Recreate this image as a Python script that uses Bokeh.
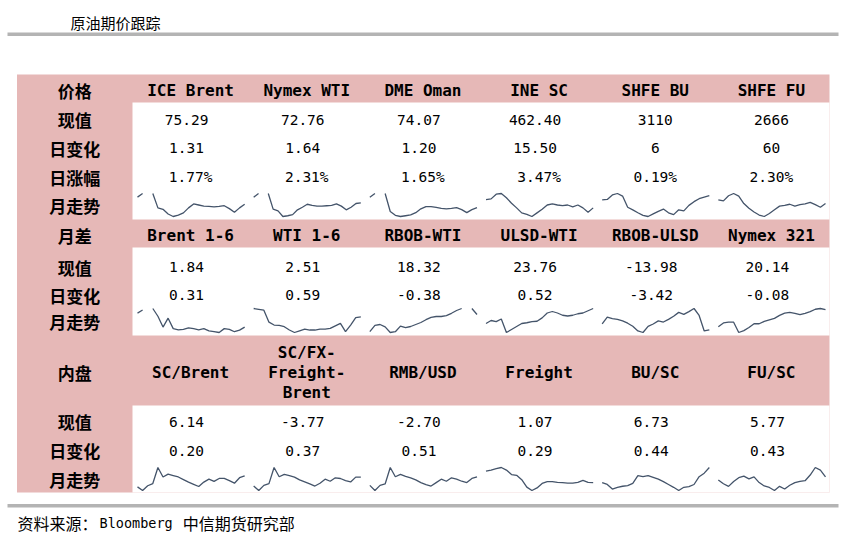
from bokeh.plotting import figure
from bokeh.models import Range1d
from bokeh.core.properties import value
from bokeh.embed import file_html
from bokeh.resources import INLINE
import numpy as np

# ---------------- data ----------------
TITLE = "原油期价跟踪"
SOURCE_PARTS = ["资料来源：", "Bloomberg", "中信期货研究部"]

sec1_group = "价格"
sec1_cols = ["ICE Brent", "Nymex WTI", "DME Oman", "INE SC", "SHFE BU", "SHFE FU"]
sec1_labels = ["现值", "日变化", "日涨幅", "月走势"]
sec1_now = ["75.29", "72.76", "74.07", "462.40", "3110", "2666"]
sec1_chg = ["1.31", "1.64", "1.20", "15.50", "6", "60"]
sec1_pct = ["1.77%", "2.31%", "1.65%", "3.47%", "0.19%", "2.30%"]

sec2_group = "月差"
sec2_cols = ["Brent 1-6", "WTI 1-6", "RBOB-WTI", "ULSD-WTI", "RBOB-ULSD", "Nymex 321"]
sec2_labels = ["现值", "日变化", "月走势"]
sec2_now = ["1.84", "2.51", "18.32", "23.76", "-13.98", "20.14"]
sec2_chg = ["0.31", "0.59", "-0.38", "0.52", "-3.42", "-0.08"]

sec3_group = "内盘"
sec3_cols = ["SC/Brent", "SC/FX-\nFreight-\nBrent", "RMB/USD", "Freight", "BU/SC", "FU/SC"]
sec3_labels = ["现值", "日变化", "月走势"]
sec3_now = ["6.14", "-3.77", "-2.70", "1.07", "6.73", "5.77"]
sec3_chg = ["0.20", "0.37", "0.51", "0.29", "0.44", "0.43"]

# monthly trend (relative levels read from the sparklines, None = missing day)
spark_ice_brent = [57, 67, None, 67, 27, 23, 10, 3, 7, 13, 27, 38, 35, 32, 31, 30, 31, 33, 25, 15, 27, 37]
spark_nymex_wti = [57, 67, None, 67, 25, 20, 5, 7, 10, 23, 30, 38, 35, 33, 33, 34, 35, 39, 33, 23, 30, 40, 42]
spark_dme_oman = [57, 67, None, 67, 20, 10, 7, 9, 11, 17, 27, 33, 33, 31, 28, 27, 28, 30, 25, 17, 25, 30]
spark_ine_sc = [50, 52, 65, 67, 55, 40, 27, 13, 9, 3, 13, 23, 35, 38, 35, 33, 35, 30, 35, 27, 15, 27]
spark_shfe_bu = [50, 51, 63, 67, 60, 30, 23, 15, 8, 5, 12, 19, 25, 15, 10, 23, 20, 35, 45, 53, 57, 61]
spark_shfe_fu = [50, 47, 61, 67, 60, 40, 27, 17, 9, 5, 13, 23, 33, 35, 38, 33, 37, 39, 43, 37, 30, 40]

spark_brent_16 = [58, 66, None, 70, 50, 22, 45, 18, 15, 16, 20, 18, 15, 18, 12, 10, 8, 18, 16, 10, 14, 22]
spark_wti_16 = [68, 66, 64, 35, 28, 27, 24, 16, 10, 14, 18, 16, 16, 18, 18, 20, 26, 32, 12, 28, 46, 48]
spark_rbob_wti = [12, 28, 30, 24, 10, 12, 26, 22, 25, 30, 35, 42, 48, 50, 50, 52, 58, 65, 70, None, 70, 55]
spark_ulsd_wti = [30, 38, 35, 42, 6, 14, 22, 30, 32, 35, 36, 45, 58, 62, 58, 52, 50, 52, 56, 58, 64, 70]
spark_rbob_ulsd = [30, 48, 44, 42, 38, 32, 24, 12, 8, 24, 30, 38, 35, 42, 50, 60, 55, 62, 70, 52, 12, 15]
spark_nymex_321 = [20, 30, 32, 32, 5, 10, 18, 28, 28, 34, 38, 42, 50, 56, 58, 55, 52, 55, 60, 66, 68, 65]

spark_sc_brent = [15, 5, 18, 24, 68, 42, 50, 46, 42, 35, 28, 22, 16, 28, 36, 30, 38, 38, 32, 25, 40, 45]
spark_sc_fx = [18, 5, 20, 25, 72, 45, 52, 48, 44, 36, 30, 24, 18, 26, 38, 32, 42, 40, 34, 30, 44, 44]
spark_rmb_usd = [20, 5, 20, 24, 72, 45, 52, 46, 42, 36, 28, 22, 18, 28, 38, 32, 42, 38, 32, 28, 40, 45]
spark_freight = [55, 58, 62, 65, 58, 46, 44, 32, 12, 3, 10, 22, 27, 27, 25, 24, 23, 23, 25, 30, 25, 24]
spark_bu_sc = [25, 20, 7, 12, 15, 17, 23, 45, 42, 45, 40, 35, 28, 20, 12, 3, 12, 14, 20, 42, 52, 68]
spark_fu_sc = [32, 22, 15, 28, 38, 42, 35, 40, 25, 16, 12, 4, 15, 8, 18, 25, 28, 30, 45, 65, 58, 40]

sec1_sparks = [spark_ice_brent, spark_nymex_wti, spark_dme_oman, spark_ine_sc, spark_shfe_bu, spark_shfe_fu]
sec2_sparks = [spark_brent_16, spark_wti_16, spark_rbob_wti, spark_ulsd_wti, spark_rbob_ulsd, spark_nymex_321]
sec3_sparks = [spark_sc_brent, spark_sc_fx, spark_rmb_usd, spark_freight, spark_bu_sc, spark_fu_sc]

# ---------------- style / layout ----------------
PINK = "#e6b8b7"
GREY = "#b4b4b4"
LINE = "#44546a"
CJK = "Noto Sans CJK SC"
MONO = "DejaVu Sans Mono"

W, H = 840, 540
TABLE_L, LABEL_R, TABLE_R = 16.5, 132.0, 829.0
COL_W = (TABLE_R - LABEL_R) / 6.0

layouts = [
    dict(head=(74, 102), head_y=89.5, body=(102, 219), row_y=[119.0, 147.5, 176.5], spark=(193, 216)),
    dict(head=(219, 247), head_y=234.5, body=(247, 335), row_y=[266.5, 294.5], spark=(308, 332)),
    dict(head=(335, 405), head_y=372.0, body=(405, 492), row_y=[421.0, 450.0], spark=(467, 490)),
]
sections = [
    (sec1_group, sec1_cols, sec1_labels, [sec1_now, sec1_chg, sec1_pct], sec1_sparks),
    (sec2_group, sec2_cols, sec2_labels, [sec2_now, sec2_chg], sec2_sparks),
    (sec3_group, sec3_cols, sec3_labels, [sec3_now, sec3_chg], sec3_sparks),
]

p = figure(width=W, height=H, x_range=Range1d(0, W), y_range=Range1d(H, 0),
           toolbar_location=None, output_backend="svg", min_border=0,
           x_axis_type=None, y_axis_type=None, outline_line_color=None,
           background_fill_color="white", border_fill_color="white")
p.grid.visible = False

# title and rules
p.text(x=[70], y=[21.5], text=[TITLE], text_font=value(CJK), text_font_size=value("15px"),
       text_font_style="normal", text_baseline="middle", text_align="left", text_color="#000000")
p.quad(left=[7, 7], right=[838, 838], top=[32, 503.5], bottom=[35.5, 507], fill_color=GREY, line_color=None)

# footer: CJK parts 16px wide per char, latin part in half-width mono
FOOT_Y = 522
fx0 = 17.0
fx1 = fx0 + len(SOURCE_PARTS[0]) * 16 + 2
fx2 = fx1 + len(SOURCE_PARTS[1]) * 8.13 + 10
p.text(x=[fx0, fx2], y=[FOOT_Y, FOOT_Y], text=[SOURCE_PARTS[0], SOURCE_PARTS[2]], text_font=value(CJK),
       text_font_size=value("16px"), text_baseline="middle", text_align="left", text_color="#000000")
p.text(x=[fx1], y=[FOOT_Y], text=[SOURCE_PARTS[1]], text_font=value(MONO),
       text_font_size=value("13.5px"), text_baseline="middle", text_align="left", text_color="#000000")

# pink table background, white body areas
p.quad(left=[TABLE_L], right=[TABLE_R], top=[74], bottom=[492], fill_color=PINK, line_color=None)
for lay in layouts:
    p.quad(left=[LABEL_R], right=[TABLE_R], top=[lay["body"][0]], bottom=[lay["body"][1]],
           fill_color="white", line_color=None)

label_x = (TABLE_L + LABEL_R) / 2.0
for (group, cols, labels, rows, sparks), lay in zip(sections, layouts):
    centers = [LABEL_R + COL_W * (i + 0.5) for i in range(6)]
    ys = [lay["head_y"]] + lay["row_y"] + [(lay["spark"][0] + lay["spark"][1]) / 2.0 + 0.5]
    p.text(x=[label_x] * len(ys), y=ys, text=[group] + labels, text_font=value(CJK),
           text_font_size=value("17px"), text_font_style="bold", text_align="center",
           text_baseline="middle", text_color="#000000")
    p.text(x=centers, y=[lay["head_y"]] * 6, text=cols, text_font=value(MONO),
           text_font_size=value("16px"), text_font_style="bold", text_align="center",
           text_baseline="middle", text_color="#000000", text_line_height=1.05)
    for vals, ry in zip(rows, lay["row_y"]):
        xs = [c - (4 if ("." in v and "%" not in v) else 0) for c, v in zip(centers, vals)]
        p.text(x=xs, y=[ry] * 6, text=vals, text_font=value(MONO), text_font_size=value("14.5px"),
               text_align="center", text_baseline="middle", text_color="#000000")
    top, bot = lay["spark"]
    for i, series in enumerate(sparks):
        arr = np.array([np.nan if s is None else s for s in series], dtype=float)
        lo, hi = np.nanmin(arr), np.nanmax(arr)
        frac = (arr - lo) / (hi - lo)
        x0 = LABEL_R + COL_W * i + 5
        x1 = LABEL_R + COL_W * (i + 1) - 4
        xs = x0 + (x1 - x0) * np.arange(len(arr)) / (len(arr) - 1)
        ys = bot - frac * (bot - top)
        p.line(x=xs, y=ys, line_color=LINE, line_width=1.3)

open("out.html", "w").write(file_html(p, INLINE))
